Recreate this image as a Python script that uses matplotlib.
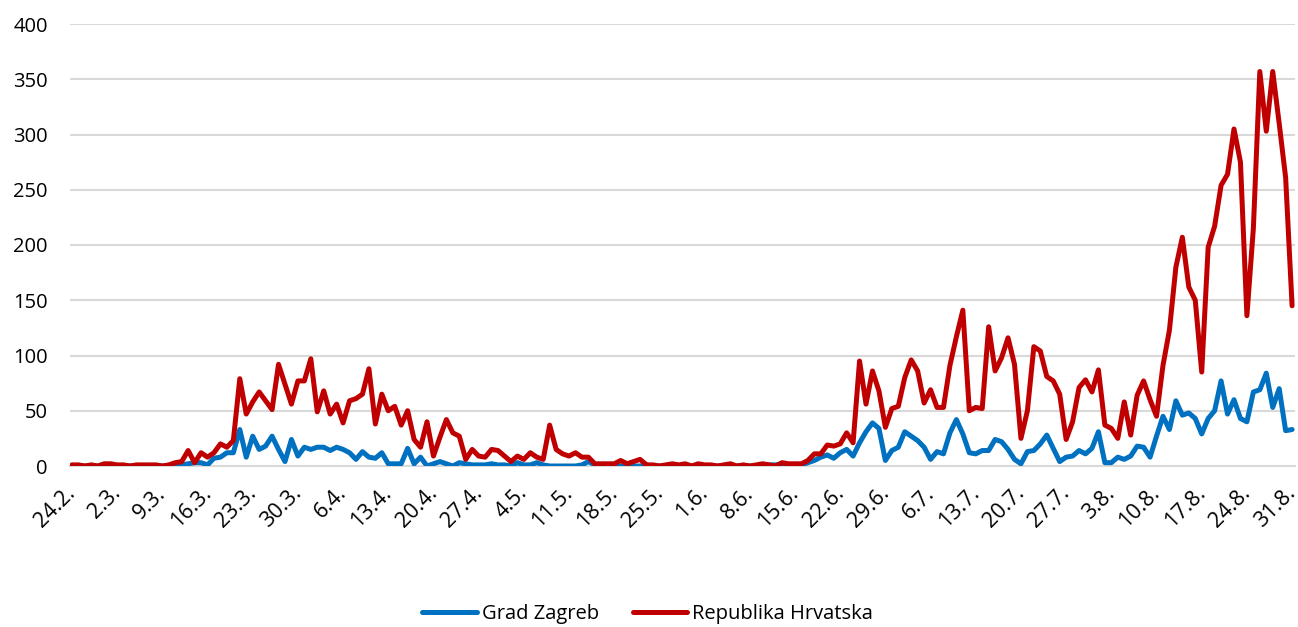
import matplotlib
matplotlib.use("Agg")
import matplotlib.pyplot as plt
import matplotlib.transforms as mtransforms
import numpy as np

# Daily values, 24.2. - 31.8. (190 days)
zagreb_part1 = [0, 0, 0, 0, 0, 0, 0, 0, 0, 0, 0, 0, 0, 0, 0, 0,
                1, 1, 2, 3, 3, 1, 7, 8, 12, 12, 33, 8, 27, 15, 18, 27]
zagreb_part2 = [15, 4, 24, 9, 17, 15, 17, 17, 14, 17, 15, 12, 6, 13, 8, 7, 12, 2, 2, 2,
                16, 2, 8, 0, 2, 4, 2, 0, 3, 2, 1, 1, 1]
zagreb_part3 = [2, 1, 1, 0, 3, 1, 1, 3, 1, 0, 0, 0, 0, 0, 1, 4, 1, 0, 1, 1, 0, 1, 0, 0, 1, 0]
zagreb_part4 = [0, 0, 0, 0, 0, 0, 0, 0, 0, 0, 0, 0, 0, 0, 0, 0, 1, 1, 1, 2]
zagreb_part5 = [1, 0, 1, 3, 5, 8, 10, 7, 12, 15, 9, 21, 31, 39, 34, 5, 14, 17, 31, 27,
                23, 17, 6, 13, 11, 30, 42, 29, 12]
zagreb_part6 = [11, 14, 14, 24, 22, 15, 6, 2, 13, 14, 20, 28, 16, 4, 8, 9, 14, 11, 16, 31, 3]
zagreb_part7 = [3, 8, 6, 9, 18, 17, 8, 27, 45, 33, 59, 46, 48, 43, 29, 43, 50, 77, 47, 60,
                43, 40, 67, 69, 84, 53, 70, 32, 33]

hr_part1 = [1, 1, 0, 1, 0, 2, 2, 1, 1, 0, 1, 1, 1, 1, 0, 1, 3, 4,
            14, 3, 12, 8, 12, 20, 17, 23, 79, 47, 58, 67, 59, 51]
hr_part2 = [92, 74, 56, 77, 77, 97, 49, 68, 47, 56, 39, 59, 61, 65, 88, 38, 65, 50, 54, 37,
            50, 24, 17, 40, 9, 26, 42, 30, 27, 6, 15, 9, 8]
hr_part3 = [15, 14, 9, 4, 9, 6, 12, 8, 6, 37, 15, 11, 9, 12, 8, 8, 2, 2, 2, 2, 5, 2, 4, 6, 1, 1]
hr_part4 = [0, 1, 2, 1, 2, 0, 2, 1, 1, 0, 1, 2, 0, 1, 0, 1, 2, 1, 0, 3]
hr_part5 = [2, 2, 2, 5, 11, 11, 19, 18, 20, 30, 21, 95, 56, 86, 68, 35, 52, 54, 80, 96,
            86, 57, 69, 53, 53, 91, 117, 141, 50]
hr_part6 = [53, 52, 126, 86, 98, 116, 92, 25, 50, 108, 104, 81, 77, 65, 24, 40, 71, 78, 67, 87, 37]
hr_part7 = [34, 25, 58, 28, 64, 77, 60, 45, 91, 123, 180, 207, 162, 150, 85, 198, 217, 254, 264, 305,
            275, 136, 215, 357, 303, 357, 310, 261, 145]

tick_labels = ["24.2.", "2.3.", "9.3.", "16.3.", "23.3.", "30.3.", "6.4.", "13.4.", "20.4.",
               "27.4.", "4.5.", "11.5.", "18.5.", "25.5.", "1.6.", "8.6.", "15.6.", "22.6.",
               "29.6.", "6.7.", "13.7.", "20.7.", "27.7.", "3.8.", "10.8.", "17.8.", "24.8.", "31.8."]

series_names = ["Grad Zagreb", "Republika Hrvatska"]

zagreb = (zagreb_part1 + zagreb_part2 + zagreb_part3 + zagreb_part4 +
          zagreb_part5 + zagreb_part6 + zagreb_part7)
hr = hr_part1 + hr_part2 + hr_part3 + hr_part4 + hr_part5 + hr_part6 + hr_part7

plt.rcParams['font.family'] = ['Open Sans', 'DejaVu Sans']

fig = plt.figure(figsize=(12.98, 6.27), dpi=100)
ax = fig.add_axes([70 / 1298, 1 - 466 / 627, 1225 / 1298, 442 / 627])

x = np.arange(len(hr))
ax.plot(x, zagreb, color="#0070C0", lw=3.6, solid_joinstyle="round",
        solid_capstyle="round", label=series_names[0], zorder=3)
ax.plot(x, hr, color="#C00000", lw=3.6, solid_joinstyle="round",
        solid_capstyle="round", label=series_names[1], zorder=4)

ax.set_ylim(0, 400)
ax.set_xlim(-0.3, len(hr) - 1 + 0.45)
ax.set_yticks(np.arange(0, 401, 50))
ax.yaxis.grid(True, color="#d9d9d9", lw=1.5)
ax.set_axisbelow(True)
for s in ["top", "right", "left"]:
    ax.spines[s].set_visible(False)
ax.spines["bottom"].set_color("#d9d9d9")
ax.spines["bottom"].set_linewidth(1.5)
ax.tick_params(axis="both", length=0, labelsize=14.5, colors="black")
ax.tick_params(axis="y", pad=16)

ax.set_xticks(np.arange(0, len(hr), 7))
ax.set_xticklabels(tick_labels, rotation=45, ha="right", va="top",
                   rotation_mode="anchor", fontsize=15.5)
ax.tick_params(axis="x", pad=12)
offset = mtransforms.ScaledTranslation(-7 / 100, 0, fig.dpi_scale_trans)
for lab in ax.get_xticklabels():
    lab.set_transform(lab.get_transform() + offset)

fig.legend(loc="center", bbox_to_anchor=(0.499, 13 / 627), ncol=2, frameon=False,
           fontsize=14.5, handlelength=2.7, handletextpad=0.25, columnspacing=1.7)

fig.savefig("out.png", dpi=100)
